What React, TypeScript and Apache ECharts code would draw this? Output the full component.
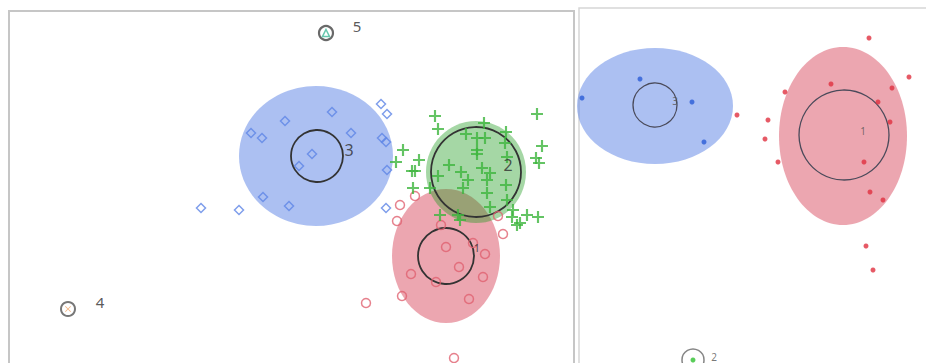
import React, { useEffect, useRef } from "react";
import * as echarts from "echarts";

// ---------- Left panel data (page-pixel units) ----------
const leftEllipses = [
  // [cx, cy, rx, ry, clusterIndex]
  [316, 156, 77, 70, 3],
  [446, 256, 54, 67, 1],
  [476, 172, 50, 51, 2],
];
const leftInnerCircles = [
  [317, 156, 26],
  [446, 256, 28],
  [476, 172, 45],
];
const leftBlue = [
  [332, 112], [285, 121], [251, 133], [262, 138], [351, 133], [312, 154], [299, 166],
  [381, 104], [387, 114], [382, 138], [386, 142], [387, 170], [263, 197], [289, 206],
  [201, 208], [239, 210], [386, 208],
];
const leftRed = [
  [415, 196], [400, 205], [397, 221], [441, 225], [446, 247], [473, 243], [485, 254],
  [459, 267], [411, 274], [436, 282], [483, 277], [402, 296], [469, 299], [366, 303],
  [503, 234], [498, 216], [454, 358],
];
const leftGreen = [
  [435, 116], [537, 114], [438, 129], [484, 123], [506, 132], [466, 134], [477, 138],
  [485, 138], [542, 146], [403, 150], [477, 150], [477, 154], [505, 143], [507, 157],
  [536, 158], [539, 163], [419, 160], [396, 162], [412, 171], [415, 171], [449, 165],
  [438, 176], [461, 172], [468, 180], [482, 168], [490, 173], [487, 180], [506, 185],
  [413, 188], [430, 188], [463, 188], [487, 193], [507, 200], [490, 207], [513, 210],
  [512, 217], [520, 223], [517, 225], [538, 217], [440, 215], [458, 215], [460, 220],
  [527, 215],
];
const leftCluster4 = [[68, 309]];
const leftCluster5 = [[326, 33]];
const leftLabels = [
  { pos: [357, 26], text: "5", size: 15 },
  { pos: [100, 302], text: "4", size: 15 },
  { pos: [349, 150], text: "3", size: 16 },
  { pos: [508, 165], text: "2", size: 16 },
  { pos: [477, 247], text: "1", size: 11 },
];

// ---------- Right panel data (page-pixel units) ----------
const rightEllipses = [
  [655, 106, 78, 58, 3],
  [843, 136, 64, 89, 1],
];
const rightInnerCircles = [
  [655, 105, 22],
  [844, 135, 45],
];
const rightBlue = [[640, 79], [582, 98], [692, 102], [704, 142]];
const rightRed = [
  [737, 115], [869, 38], [909, 77], [831, 84], [892, 88], [785, 92], [878, 102],
  [768, 120], [890, 122], [765, 139], [864, 162], [778, 162], [870, 192], [883, 200],
  [866, 246], [873, 270],
];
const rightCluster2 = [[693, 360]];
const rightLabels = [
  { pos: [675, 101], text: "3", size: 10 },
  { pos: [863, 131], text: "1", size: 10 },
  { pos: [714, 357], text: "2", size: 10 },
];

const FILL: Record<number, string> = {
  3: "rgba(90,130,230,0.5)",
  1: "rgba(217,77,97,0.5)",
  2: "rgba(30,155,30,0.4)",
};

const PLUS = "path://M4.1,0H5.9V4.1H10V5.9H5.9V10H4.1V5.9H0V4.1H4.1Z";
const XMARK = "path://M1,0L5,4L9,0L10,1L6,5L10,9L9,10L5,6L1,10L0,9L4,5L0,1Z";

function ellipseSeries(data: number[][], axis: number) {
  return {
    type: "custom",
    xAxisIndex: axis,
    yAxisIndex: axis,
    silent: true,
    data,
    renderItem: (params: any, api: any) => {
      const c = api.coord([api.value(0), api.value(1)]);
      const s = api.size([api.value(2), api.value(3)]);
      return {
        type: "ellipse",
        shape: { cx: c[0], cy: c[1], rx: s[0], ry: s[1] },
        style: { fill: FILL[api.value(4)], stroke: "none" },
      };
    },
  };
}

function circleSeries(data: number[][], axis: number, stroke: string, lw: number) {
  return {
    type: "custom",
    xAxisIndex: axis,
    yAxisIndex: axis,
    silent: true,
    data,
    renderItem: (params: any, api: any) => {
      const c = api.coord([api.value(0), api.value(1)]);
      const s = api.size([api.value(2), api.value(2)]);
      return {
        type: "circle",
        shape: { cx: c[0], cy: c[1], r: s[0] },
        style: { fill: "none", stroke, lineWidth: lw },
      };
    },
  };
}

function labelSeries(labels: { pos: number[]; text: string; size: number }[], axis: number, color: string) {
  return {
    type: "scatter",
    xAxisIndex: axis,
    yAxisIndex: axis,
    silent: true,
    symbolSize: 1,
    itemStyle: { color: "rgba(0,0,0,0)" },
    data: labels.map((l) => ({
      value: l.pos,
      name: l.text,
      label: { fontSize: l.size },
    })),
    label: {
      show: true,
      position: "inside",
      formatter: "{b}",
      color,
      fontFamily: "Noto Sans",
    },
  };
}

export default function App() {
  const ref = useRef<HTMLDivElement>(null);
  useEffect(() => {
    if (!ref.current) return;
    const chart = echarts.init(ref.current, undefined, { renderer: "svg" });
    const hidden = { show: false };
    chart.setOption({
      animation: false,
      backgroundColor: "#ffffff",
      grid: [
        { left: 9, top: 11, width: 565, height: 360, show: true, borderColor: "#c6c6c6", borderWidth: 2, outerBoundsMode: "none", containLabel: false },
        { left: 579, top: 8, width: 360, height: 360, show: true, borderColor: "#d6d6d6", borderWidth: 1.5, outerBoundsMode: "none", containLabel: false },
      ],
      xAxis: [
        { type: "value", gridIndex: 0, min: 9, max: 574, ...hidden },
        { type: "value", gridIndex: 1, min: 579, max: 939, ...hidden },
      ],
      yAxis: [
        { type: "value", gridIndex: 0, min: 11, max: 371, inverse: true, ...hidden },
        { type: "value", gridIndex: 1, min: 8, max: 368, inverse: true, ...hidden },
      ],
      series: [
        // left panel
        ellipseSeries(leftEllipses, 0),
        {
          type: "scatter", xAxisIndex: 0, yAxisIndex: 0, silent: true,
          symbol: "diamond", symbolSize: 9, data: leftBlue,
          itemStyle: { color: "rgba(0,0,0,0)", borderColor: "#5f86e6", borderWidth: 1.5 },
        },
        {
          type: "scatter", xAxisIndex: 0, yAxisIndex: 0, silent: true,
          symbol: "circle", symbolSize: 9, data: leftRed,
          itemStyle: { color: "rgba(0,0,0,0)", borderColor: "#e0606f", borderWidth: 1.5 },
        },
        {
          type: "scatter", xAxisIndex: 0, yAxisIndex: 0, silent: true,
          symbol: PLUS, symbolSize: 12, data: leftGreen,
          itemStyle: { color: "#3db53d" },
        },
        circleSeries(leftInnerCircles, 0, "#333333", 1.8),
        {
          type: "scatter", xAxisIndex: 0, yAxisIndex: 0, silent: true,
          symbol: "circle", symbolSize: 14, data: leftCluster4,
          itemStyle: { color: "#ffffff", borderColor: "#555555", borderWidth: 2 },
        },
        {
          type: "scatter", xAxisIndex: 0, yAxisIndex: 0, silent: true,
          symbol: XMARK, symbolSize: 6, data: leftCluster4,
          itemStyle: { color: "#f0a060" },
        },
        {
          type: "scatter", xAxisIndex: 0, yAxisIndex: 0, silent: true,
          symbol: "circle", symbolSize: 14, data: leftCluster5,
          itemStyle: { color: "#ffffff", borderColor: "#444444", borderWidth: 2.2 },
        },
        {
          type: "scatter", xAxisIndex: 0, yAxisIndex: 0, silent: true,
          symbol: "triangle", symbolSize: 7, data: leftCluster5,
          itemStyle: { color: "rgba(0,0,0,0)", borderColor: "#40b898", borderWidth: 1.5 },
        },
        labelSeries(leftLabels, 0, "#2e2e2e"),
        // right panel
        ellipseSeries(rightEllipses, 1),
        {
          type: "scatter", xAxisIndex: 1, yAxisIndex: 1, silent: true,
          symbol: "circle", symbolSize: 5, data: rightBlue,
          itemStyle: { color: "#2b5bd6" },
        },
        {
          type: "scatter", xAxisIndex: 1, yAxisIndex: 1, silent: true,
          symbol: "circle", symbolSize: 5, data: rightRed,
          itemStyle: { color: "#e0303f" },
        },
        circleSeries(rightInnerCircles, 1, "#4a4a5a", 1.3),
        {
          type: "scatter", xAxisIndex: 1, yAxisIndex: 1, silent: true,
          symbol: "circle", symbolSize: 22, data: rightCluster2,
          itemStyle: { color: "rgba(0,0,0,0)", borderColor: "#666666", borderWidth: 1.5 },
        },
        {
          type: "scatter", xAxisIndex: 1, yAxisIndex: 1, silent: true,
          symbol: "circle", symbolSize: 5, data: rightCluster2,
          itemStyle: { color: "#30c030" },
        },
        labelSeries(rightLabels, 1, "#555555"),
      ],
    });
    return () => chart.dispose();
  }, []);
  return (
    <div
      ref={ref}
      style={{ position: "fixed", left: 0, top: 0, width: 926, height: 363, background: "#fff" }}
    />
  );
}
